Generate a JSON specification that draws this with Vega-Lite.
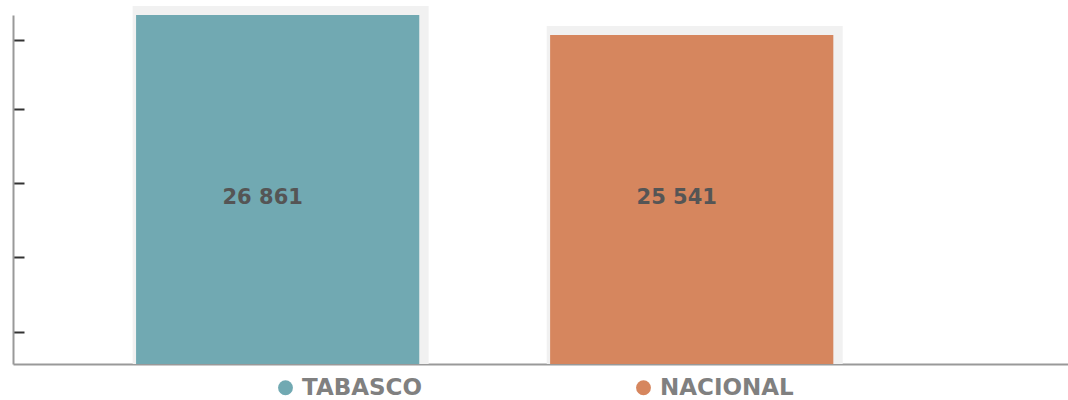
{
  "$schema": "https://vega.github.io/schema/vega-lite/v6.json",
  "width": 1055,
  "height": 349,
  "autosize": {"type": "none"},
  "padding": {"left": 13, "top": 15, "right": 0, "bottom": 36},
  "config": {"view": {"stroke": null}, "font": "DejaVu Sans"},
  "data": {
    "values": [
      {"entidad": "TABASCO", "valor": 26861, "etiqueta": "26 861"},
      {"entidad": "NACIONAL", "valor": 25541, "etiqueta": "25 541"}
    ]
  },
  "encoding": {
    "x": {
      "field": "entidad",
      "type": "nominal",
      "sort": ["TABASCO", "NACIONAL"],
      "scale": {"paddingInner": 0.316, "paddingOuter": 0.432, "align": 0.344},
      "axis": {"title": null, "labels": false, "ticks": false, "domainColor": "#999999", "domainWidth": 2}
    }
  },
  "layer": [
    {
      "mark": {"type": "bar", "width": 296, "xOffset": 3, "yOffset": -9, "y2Offset": 0, "color": "#f1f1f1", "clip": false},
      "encoding": {
        "y": {
          "field": "valor",
          "type": "quantitative",
          "scale": {"domain": [3825, 26861], "zero": false, "nice": false},
          "axis": {
            "title": null,
            "labels": false,
            "grid": false,
            "values": [5939, 10889, 15773, 20657, 25211],
            "tickSize": -11,
            "tickColor": "#333333",
            "tickWidth": 2,
            "domainColor": "#999999",
            "domainWidth": 2
          }
        },
        "y2": {"datum": 3825}
      }
    },
    {
      "mark": {"type": "bar", "clip": true},
      "encoding": {
        "y": {"field": "valor", "type": "quantitative"},
        "y2": {"datum": 3825},
        "color": {
          "field": "entidad",
          "type": "nominal",
          "sort": ["TABASCO", "NACIONAL"],
          "scale": {"domain": ["TABASCO", "NACIONAL"], "range": ["#71a9b2", "#d6865e"]},
          "legend": {
            "title": null,
            "orient": "none",
            "legendX": 261,
            "legendY": 361,
            "direction": "horizontal",
            "symbolType": "circle",
            "symbolSize": 220,
            "symbolStrokeWidth": 0,
            "labelFontSize": 23,
            "labelFont": "DejaVu Sans",
            "labelFontWeight": "bold",
            "labelColor": "#808080",
            "labelOffset": 5,
            "labelLimit": 300,
            "columnPadding": 209,
            "padding": 0
          }
        }
      }
    },
    {
      "mark": {"type": "text", "fontSize": 21, "font": "DejaVu Sans", "fontWeight": "bold", "color": "#555555", "dx": -15, "baseline": "middle"},
      "encoding": {
        "y": {"datum": 14800, "type": "quantitative"},
        "text": {"field": "etiqueta"}
      }
    }
  ]
}
